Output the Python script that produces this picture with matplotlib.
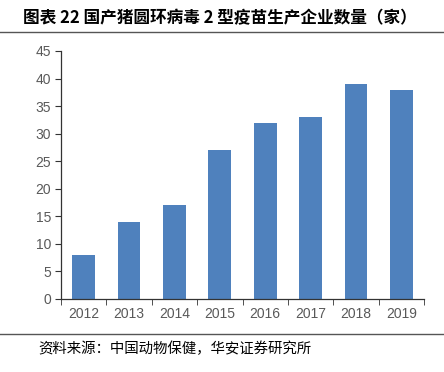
import matplotlib
matplotlib.use("Agg")
import matplotlib.pyplot as plt
from matplotlib.lines import Line2D

years = ["2012", "2013", "2014", "2015", "2016", "2017", "2018", "2019"]
counts = [8, 14, 17, 27, 32, 33, 39, 38]
yticks = [0, 5, 10, 15, 20, 25, 30, 35, 40, 45]
title = "图表 22 国产猪圆环病毒 2 型疫苗生产企业数量（家）"
source = "资料来源：中国动物保健，华安证券研究所"

fig = plt.figure(figsize=(4.44, 3.72), dpi=100)
ax = fig.add_axes([61/444, 1-299/372, (424-61)/444, (299-51)/372])

x = list(range(len(years)))
ax.bar(x, counts, width=0.5, color="#4F81BD", zorder=2)
ax.set_xlim(-0.5, len(years)-0.5)
ax.set_ylim(0, 45)
ax.set_yticks(yticks)
ax.set_yticklabels([str(v) for v in yticks], family=["Liberation Sans", "DejaVu Sans"], fontsize=10, color="#595959")
ax.set_xticks(x)
ax.set_xticklabels(years, family=["Liberation Sans", "DejaVu Sans"], fontsize=10, color="#595959")
ax.tick_params(axis="x", length=0, pad=6)
ax.set_xticks([i - 0.5 for i in range(len(years)+1)], minor=True)
ax.tick_params(axis="x", which="minor", length=4, direction="out", color="#333333")
ax.tick_params(axis="y", length=4, direction="out", color="#333333", pad=3)
for s in ["top", "right"]:
    ax.spines[s].set_visible(False)
for s in ["left", "bottom"]:
    ax.spines[s].set_color("#333333")
    ax.spines[s].set_linewidth(0.9)

fig.text(23/444, 1-18/372, title, family=["Noto Sans CJK SC", "DejaVu Sans"], fontsize=12, fontweight="bold", va="center", ha="left", color="#000000")
fig.add_artist(Line2D([0, 1], [1-32/372, 1-32/372], color="#555555", linewidth=1.0, transform=fig.transFigure))
fig.add_artist(Line2D([0, 1], [1-334/372, 1-334/372], color="#555555", linewidth=1.0, transform=fig.transFigure))
fig.text(38/444, 1-349/372, source, family=["Noto Sans CJK SC", "DejaVu Sans"], fontsize=10.4, va="center", ha="left", color="#000000")

fig.savefig("out.png", dpi=100)
